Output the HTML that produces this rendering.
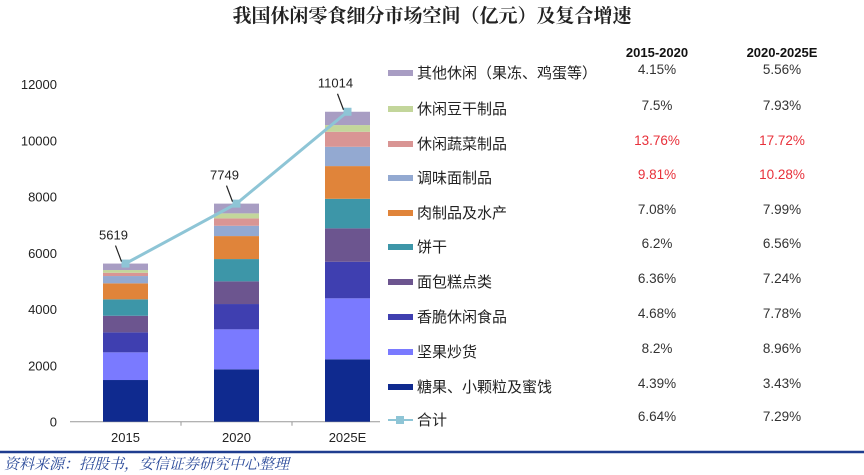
<!DOCTYPE html>
<html><head><meta charset="utf-8"><style>
body{margin:0;width:864px;height:475px;background:#fff;overflow:hidden;font-family:"Liberation Sans","Noto Sans CJK SC",sans-serif}
svg{display:block}
</style></head><body>
<svg id="c" width="864" height="475">
<text x="432" y="22" text-anchor="middle" font-size="19" font-weight="bold" fill="#222" font-family="'Noto Serif CJK SC','Liberation Serif',serif">我国休闲零食细分市场空间（亿元）及复合增速</text>
<text x="657" y="57" text-anchor="middle" font-size="13" font-weight="bold" fill="#111">2015-2020</text>
<text x="782" y="57" text-anchor="middle" font-size="13" font-weight="bold" fill="#111">2020-2025E</text>
<line x1="0" y1="452" x2="864" y2="452" stroke="#1f3d8f" stroke-width="2.5"/>
<text x="4" y="469" font-size="15" font-style="italic" fill="#2a4a9a" font-family="'Noto Serif CJK SC',serif">资料来源：招股书，安信证券研究中心整理</text>
</svg>
<script>
const years=["2015","2020","2025E"];
const names=["糖果、小颗粒及蜜饯","坚果炒货","香脆休闲食品","面包糕点类","饼干","肉制品及水产","调味面制品","休闲蔬菜制品","休闲豆干制品","其他休闲（果冻、鸡蛋等）"];
const s2015=[1481,984,710,590,583,568,260,117,96,230];
const s2020=[1861,1421,899,806,792,817,366,263,178,346];
const s2025=[2217,2167,1300,1186,1051,1162,686,533,238,474];
const totals=[5619,7749,11014];
const cagr1=["4.39%","8.2%","4.68%","6.36%","6.2%","7.08%","9.81%","13.76%","7.5%","4.15%","6.64%"];
const cagr2=["3.43%","8.96%","7.78%","7.24%","6.56%","7.99%","10.28%","17.72%","7.93%","5.56%","7.29%"];
const yTicks=[0,2000,4000,6000,8000,10000,12000];
const colors=["#0f2a8f","#7a7aff","#3f3fb0","#6c558f","#3d96a8","#e0843a","#93a9d1","#d99594","#c3d69b","#a89dc3"];
const series=[s2015,s2020,s2025];
const NS="http://www.w3.org/2000/svg",svg=document.getElementById('c');
function mk(t,a,p){const e=document.createElementNS(NS,t);for(const k in a)e.setAttribute(k,a[k]);(p||svg).appendChild(e);return e;}
const y0=421.7,yMax=12000,yTop=84;
const y=v=>y0-(v/yMax)*(y0-yTop);
const x=i=>125.5+i*111;
const bw=45;
yTicks.forEach(t=>{const e=mk('text',{x:57,y:y(t)+5,'text-anchor':'end','font-size':13,fill:'#222'});e.textContent=t;

});
const ax=mk('line',{x1:70,y1:y0,x2:380,y2:y0,stroke:'#999','stroke-width':1});


[181,292].forEach(px=>{const tk=mk('line',{x1:px,y1:y0,x2:px,y2:y0+4,stroke:'#999'});

});
years.forEach((yr,i)=>{const e=mk('text',{x:x(i),y:442,'text-anchor':'middle','font-size':13,fill:'#222'});e.textContent=yr;


let acc=0;series[i].forEach((v,j)=>{const r=mk('rect',{x:x(i)-bw/2,y:y(acc+v),width:bw,height:y(acc)-y(acc+v),fill:colors[j]});

acc+=v;});});
const pl=mk('polyline',{points:totals.map((t,i)=>x(i)+','+y(t)).join(' '),fill:'none',stroke:'#8ec5d6','stroke-width':3});


totals.forEach((t,i)=>{const m=mk('rect',{x:x(i)-4,y:y(t)-4,width:8,height:8,fill:'#8ec5d6'});


const ln=mk('line',{x1:x(i)-4,y1:y(t)-2,x2:x(i)-10,y2:y(t)-18,stroke:'#222','stroke-width':1.2});


const l=mk('text',{x:x(i)-12,y:y(t)-24,'text-anchor':'middle','font-size':13,fill:'#222'});l.textContent=t;

});
const rowY=[387,352,317,282,247,213,178,144,109,73,420];
for(let k=0;k<11;k++){const ry=rowY[k];
if(k<10){const s=mk('rect',{x:388,y:ry-3,width:25,height:6,fill:colors[k]});

}
else{const l1=mk('line',{x1:388,y1:ry,x2:413,y2:ry,stroke:'#8ec5d6','stroke-width':2});


const l2=mk('rect',{x:396,y:ry-4,width:8,height:8,fill:'#8ec5d6'});

}
const t=mk('text',{x:417,y:ry+5,'font-size':15,fill:'#222'});t.textContent=k<10?names[k]:'合计';


const red=(k===6||k===7);
const a=mk('text',{x:657,y:ry+1,'text-anchor':'middle','font-size':13.5,fill:red?'#e8303a':'#333'});a.textContent=cagr1[k];


const b=mk('text',{x:782,y:ry+1,'text-anchor':'middle','font-size':13.5,fill:red?'#e8303a':'#333'});b.textContent=cagr2[k];

}
</script>
</body></html>
